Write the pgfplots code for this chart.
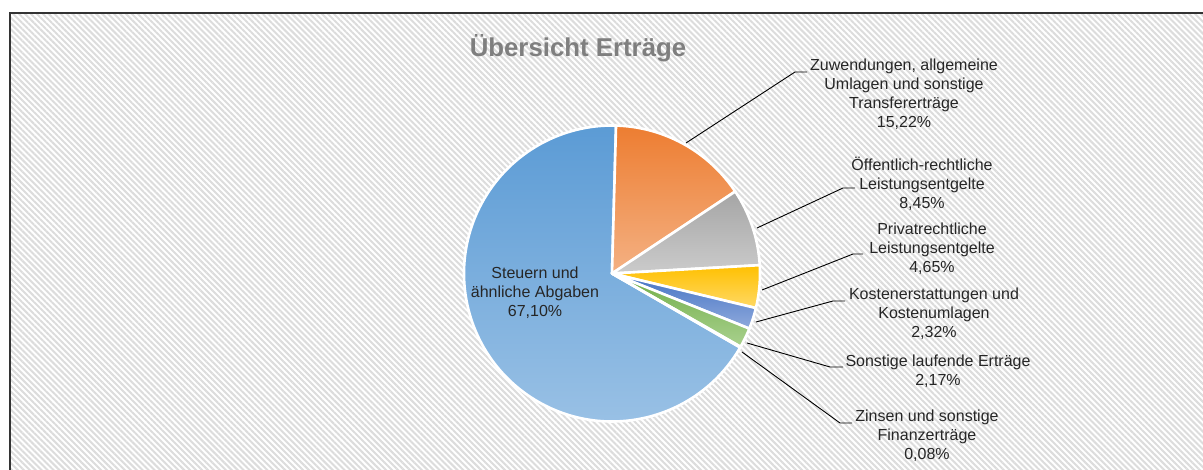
\documentclass[border=0pt]{standalone}
\usepackage{pgfplots}
\pgfplotsset{compat=1.18}
\usepackage{pgfplotstable}
\usepackage{fontspec}
\setmainfont{Liberation Sans}
\usetikzlibrary{patterns.meta}

\definecolor{pietop0}{HTML}{5B9BD5}\definecolor{piebot0}{HTML}{9DC3E6}
\definecolor{pietop1}{HTML}{ED7D31}\definecolor{piebot1}{HTML}{F4B183}
\definecolor{pietop2}{HTML}{A5A5A5}\definecolor{piebot2}{HTML}{CBCBCB}
\definecolor{pietop3}{HTML}{FFC000}\definecolor{piebot3}{HTML}{FFD966}
\definecolor{pietop4}{HTML}{4472C4}\definecolor{piebot4}{HTML}{8FAADC}
\definecolor{pietop5}{HTML}{70AD47}\definecolor{piebot5}{HTML}{A9D18E}
\definecolor{pietop6}{HTML}{255E91}\definecolor{piebot6}{HTML}{5B8DB8}
\definecolor{titlegray}{HTML}{7F7F7F}
\definecolor{labeltext}{HTML}{262626}
\definecolor{hatch}{HTML}{DCDCDC}

\pgfplotstableread{
idx value
0 67.10
1 15.22
2 8.45
3 4.65
4 2.32
5 2.17
6 0.08
}\pietable

\begin{document}
\begin{tikzpicture}
\path[use as bounding box] (0,0) rectangle (1203pt,470pt);
% background with diagonal hatch and frame
\fill[white] (0,0) rectangle (1203pt,470pt);
\fill[pattern={Lines[angle=-45,distance=4.2pt,line width=2pt]},pattern color=hatch]
  (10pt,-20pt) rectangle (1230pt,457pt);
\draw[black!80,line width=1.1pt] (10pt,-20pt) rectangle (1230pt,457pt);

% compute slice angles (clockwise, first slice starting at -30 deg)
\def\startang{-30}
\pgfplotsforeachungrouped \i in {0,...,6}{%
  \pgfplotstablegetelem{\i}{value}\of\pietable
  \pgfmathsetmacro\endang{\startang-3.6*\pgfplotsretval}%
  \expandafter\xdef\csname pieS\i\endcsname{\startang}%
  \expandafter\xdef\csname pieE\i\endcsname{\endang}%
  \global\let\startang\endang
}

\begin{axis}[
  at={(0,0)}, anchor=origin,
  x=1pt, y=1pt,
  xmin=0, xmax=1203, ymin=0, ymax=470,
  hide axis, clip=false,
]
\pgfplotsinvokeforeach{0,...,6}{
  \path[top color=pietop#1, bottom color=piebot#1, draw=white, line width=2.6pt, line join=round]
    (axis cs:612,196.5) -- ++(\csname pieS#1\endcsname:148pt)
    arc[start angle=\csname pieS#1\endcsname, end angle=\csname pieE#1\endcsname, radius=148pt]
    -- cycle;
}

% title
\node[anchor=base, font=\bfseries\fontsize{25.8}{30}\selectfont, text=titlegray]
  at (axis cs:578,413) {Übersicht Erträge};

% leader lines
\draw[black, line width=0.9pt] (axis cs:686,327) -- (axis cs:795,398) -- (axis cs:807,398);
\draw[black, line width=0.9pt] (axis cs:757,242) -- (axis cs:843,282) -- (axis cs:855,282);
\draw[black, line width=0.9pt] (axis cs:762,180) -- (axis cs:853,216) -- (axis cs:863,216);
\draw[black, line width=0.9pt] (axis cs:756,148) -- (axis cs:833,169) -- (axis cs:845,169);
\draw[black, line width=0.9pt] (axis cs:747,127) -- (axis cs:830,103) -- (axis cs:843,103);
\draw[black, line width=0.9pt] (axis cs:742,118) -- (axis cs:840,47) -- (axis cs:852,47);

% data labels
\begin{scope}[every node/.style={align=center, text=labeltext, font=\fontsize{16}{19}\selectfont, inner sep=0pt}]
\node at (axis cs:904,375.5) {Zuwendungen, allgemeine\\Umlagen und sonstige\\Transfererträge\\15,22\%};
\node at (axis cs:922,286.5) {Öffentlich-rechtliche\\Leistungsentgelte\\8,45\%};
\node at (axis cs:932,221) {Privatrechtliche\\Leistungsentgelte\\4,65\%};
\node at (axis cs:934,156.5) {Kostenerstattungen und\\Kostenumlagen\\2,32\%};
\node at (axis cs:938,98.5) {Sonstige laufende Erträge\\2,17\%};
\node at (axis cs:927,34) {Zinsen und sonstige\\Finanzerträge\\0,08\%};
\node at (axis cs:535,177.5) {Steuern und\\ähnliche Abgaben\\67,10\%};
\end{scope}
\end{axis}
\end{tikzpicture}
\end{document}
